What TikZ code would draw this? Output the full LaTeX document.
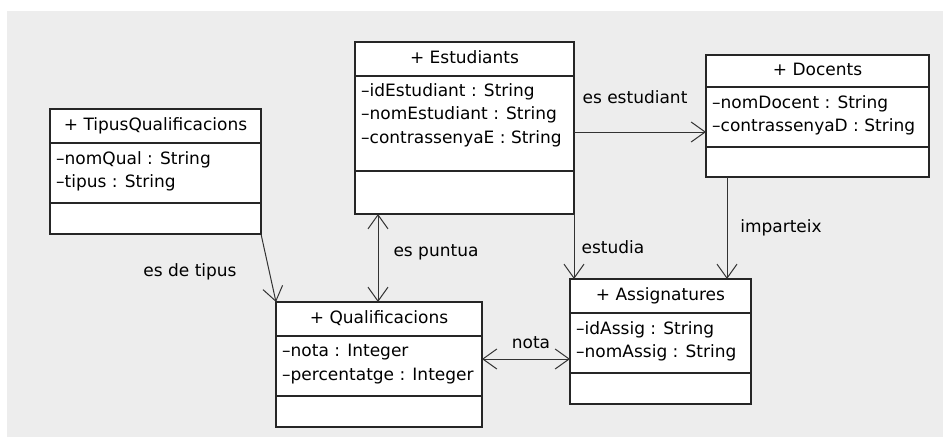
\documentclass[tikz,border=0pt]{standalone}
\usepackage{fontspec}
\setmainfont{DejaVu Sans}
\usetikzlibrary{positioning}
\usetikzlibrary{arrows.meta}
\usetikzlibrary{shadows}
\definecolor{bggray}{HTML}{EDEDED}

\begin{document}
\begin{tikzpicture}[x=1pt, y=-1pt,
		every node/.style={font=\fontsize{17}{23.5}\selectfont},
		box/.style={draw=black!85, line width=1.3pt, fill=white, inner sep=0pt, outer sep=0pt,
			drop shadow={shadow xshift=1.2pt, shadow yshift=-1.2pt, fill=black, opacity=0.3}},
		head/.style={box, text height=12pt, text depth=3.5pt},
		attr/.style={anchor=north west, align=left, inner sep=0pt},
		assoc/.style={draw=black!80, line width=1pt},
		navig/.style={assoc, -{Straight Barb[length=14pt, width=20pt]}},
		bothways/.style={assoc, {Straight Barb[length=14pt, width=20pt]}-{Straight Barb[length=14pt, width=20pt]}}]
		\useasboundingbox (0,0) rectangle (943,437);
		\fill[bggray] (7,11) rectangle (943,437);

		% TipusQualificacions
		\node[head, anchor=north west, minimum width=211pt, minimum height=34pt] (tip) at (50,109) {+ TipusQualificacions};
		\node[box, below=0pt of tip, minimum width=211pt, minimum height=60pt] (tip-attr) {};
		\node[box, below=0pt of tip-attr, minimum width=211pt, minimum height=31pt] (tip-ops) {};
		\node[attr] (tip-txt) at ([shift={(6,8)}]tip-attr.north west) {\textendash nomQual : String\\\textendash tipus : String};

		% Estudiants
		\node[head, anchor=north west, minimum width=219pt, minimum height=34pt] (est) at (355,42) {+ Estudiants};
		\node[box, below=0pt of est, minimum width=219pt, minimum height=95pt] (est-attr) {};
		\node[box, below=0pt of est-attr, minimum width=219pt, minimum height=43pt] (est-ops) {};
		\node[attr] (est-txt) at ([shift={(6,7)}]est-attr.north west) {\textendash idEstudiant : String\\\textendash nomEstudiant : String\\\textendash contrassenyaE : String};

		% Docents
		\node[head, anchor=north west, minimum width=223pt, minimum height=32pt] (doc) at (706,55) {+ Docents};
		\node[box, below=0pt of doc, minimum width=223pt, minimum height=60pt] (doc-attr) {};
		\node[box, below=0pt of doc-attr, minimum width=223pt, minimum height=30pt] (doc-ops) {};
		\node[attr] (doc-txt) at ([shift={(6,8)}]doc-attr.north west) {\textendash nomDocent : String\\\textendash contrassenyaD : String};

		% Qualificacions
		\node[head, anchor=north west, minimum width=206pt, minimum height=34pt] (qual) at (276,302) {+ Qualificacions};
		\node[box, below=0pt of qual, minimum width=206pt, minimum height=60pt] (qual-attr) {};
		\node[box, below=0pt of qual-attr, minimum width=206pt, minimum height=31pt] (qual-ops) {};
		\node[attr] (qual-txt) at ([shift={(6,8)}]qual-attr.north west) {\textendash nota : Integer\\\textendash percentatge : Integer};

		% Assignatures
		\node[head, anchor=north west, minimum width=181pt, minimum height=34pt] (asg) at (570,279) {+ Assignatures};
		\node[box, below=0pt of asg, minimum width=181pt, minimum height=60pt] (asg-attr) {};
		\node[box, below=0pt of asg-attr, minimum width=181pt, minimum height=31pt] (asg-ops) {};
		\node[attr] (asg-txt) at ([shift={(6,8)}]asg-attr.north west) {\textendash idAssig : String\\\textendash nomAssig : String};

		% associations
		\coordinate (estud-from) at ([yshift=-8.5pt]est-attr.east);
		\draw[navig] (estud-from) -- (estud-from -| doc-attr.west);
		\draw[navig] (est-ops.south east) -- (est-ops.south east |- asg.north);
		\coordinate (imp-from) at ([xshift=21pt]doc-ops.south west);
		\draw[navig] (imp-from) -- (imp-from |- asg.north);
		\coordinate (pun-from) at ([xshift=23pt]est-ops.south west);
		\draw[bothways] (pun-from) -- (pun-from |- qual.north);
		\coordinate (nota-from) at ([yshift=7pt]qual-attr.east);
		\draw[bothways] (nota-from) -- (nota-from -| asg-attr.west);
		\draw[navig] (tip-ops.south east) -- (qual.north west);

		\node (l-estud) at (635,97) {es estudiant};
		\node (l-estudia) at (613,247) {estudia};
		\node (l-imp) at (781,228) {imparteix};
		\node (l-pun) at (436,252) {es puntua};
		\node (l-nota) at (531,343) {nota};
		\node (l-tipus) at (190,272) {es de tipus};
	\end{tikzpicture}
\end{document}
